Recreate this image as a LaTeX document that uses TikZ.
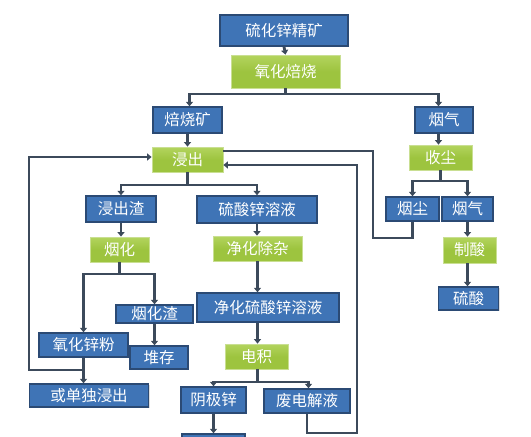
\documentclass[tikz,border=0pt]{standalone}
\usepackage{fontspec}
\setmainfont{Noto Sans CJK SC}
\usetikzlibrary{arrows.meta,shadows}
\definecolor{bfill}{HTML}{3F74B6}
\definecolor{bdraw}{HTML}{2B4A74}
\definecolor{gfill}{HTML}{9DC43F}
\definecolor{gtop}{HTML}{B3D45E}
\definecolor{gdraw}{HTML}{C9DF92}
\definecolor{lcol}{HTML}{3C4A5B}
\tikzset{
  bbox/.style={draw=bdraw, line width=1.4pt, fill=bfill, text=white, inner sep=0pt,
    font=\fontsize{15.5}{16}\selectfont, drop shadow={shadow xshift=1pt, shadow yshift=-1pt, opacity=0.25}},
  gbox/.style={draw=gdraw, line width=0.8pt, top color=gtop, bottom color=gfill, middle color=gfill, text=white, inner sep=0pt,
    font=\fontsize{15.5}{16}\selectfont, drop shadow={shadow xshift=1pt, shadow yshift=-1pt, opacity=0.2}},
  ln/.style={draw=lcol, line width=2.8pt},
  arr/.style={ln, -{Triangle[width=7pt,length=4.5pt]}},
}
\begin{document}
\begin{tikzpicture}[x=1pt,y=-1pt]
\useasboundingbox (0,0) rectangle (531,437);
\clip (0,0) rectangle (531,437);
% nodes
\node[bbox, minimum width=128pt, minimum height=31pt] (kuang) at (284,30.5) {硫化锌精矿};
\node[gbox, minimum width=109pt, minimum height=33pt] (beishao) at (285.5,71.5) {氧化焙烧};
\node[bbox, minimum width=69pt, minimum height=26pt] (bsk) at (187.5,120) {焙烧矿};
\node[bbox, minimum width=58pt, minimum height=26pt] (yq1) at (444,120) {烟气};
\node[gbox, minimum width=71pt, minimum height=25pt] (jc) at (187.5,159.5) {浸出};
\node[gbox, minimum width=63pt, minimum height=25pt] (sc) at (440.5,157.5) {收尘};
\node[bbox, minimum width=70pt, minimum height=26pt] (jcz) at (121,209) {浸出渣};
\node[bbox, minimum width=120pt, minimum height=27pt] (zn) at (257,209.5) {硫酸锌溶液};
\node[bbox, minimum width=53pt, minimum height=24pt] (yc) at (412.5,209) {烟尘};
\node[bbox, minimum width=51pt, minimum height=24pt] (yq2) at (467.5,209) {烟气};
\node[gbox, minimum width=59pt, minimum height=25pt] (yh) at (119.5,249.5) {烟化};
\node[gbox, minimum width=89pt, minimum height=25pt] (jh) at (257.5,248.5) {净化除杂};
\node[gbox, minimum width=53pt, minimum height=26pt] (zs) at (469.5,250) {制酸};
\node[bbox, minimum width=60pt, minimum height=23pt] (ls) at (468.5,298.5) {硫酸};
\node[bbox, minimum width=77pt, minimum height=18pt] (yhz) at (154.5,314) {烟化渣};
\node[bbox, minimum width=142pt, minimum height=29pt] (jhzn) at (268,307.5) {净化硫酸锌溶液};
\node[bbox, minimum width=89pt, minimum height=24pt] (yhxf) at (83.5,345) {氧化锌粉};
\node[bbox, minimum width=58pt, minimum height=23pt] (dc) at (159,357.5) {堆存};
\node[gbox, minimum width=63pt, minimum height=25pt] (dj) at (256.5,356.5) {电积};
\node[bbox, minimum width=119pt, minimum height=23pt] (hd) at (89,395.5) {或单独浸出};
\node[bbox, minimum width=65pt, minimum height=26pt] (yjx) at (213.5,400) {阴极锌};
\node[bbox, minimum width=86pt, minimum height=24pt] (fdj) at (307,401) {废电解液};
\node[bbox, minimum width=63pt, minimum height=24pt] (bot) at (213.5,446) {};
% junctions
\coordinate (b1) at (285.5,94);
\coordinate (b2) at (187.5,185);
\coordinate (b3) at (119.5,274);
\coordinate (b4) at (257.5,382);
\coordinate (b5) at (440.5,181);
\coordinate (j1) at (83.5,370);
\coordinate (lA) at (29,370);
\coordinate (cA1) at (412.5,238);
\coordinate (cA2) at (373,238);
\coordinate (cB1) at (307,433);
\coordinate (cB2) at (357,433);
% connectors
\draw[arr] (kuang.south) -- (beishao.north);
\draw[ln] (beishao.south) -- (b1);
\draw[arr] (b1) -| ([xshift=2pt]bsk.north);
\draw[arr] (b1) -| ([xshift=-5.5pt]yq1.north);
\draw[arr] (bsk.south) -- (jc.north);
\draw[arr] ([xshift=-5.5pt]yq1.south) -- ([xshift=-5.5pt]yq1.south |- sc.north);
\draw[ln] (jc.south) -- (b2);
\draw[arr] (b2) -| (jcz.north);
\draw[arr] (b2) -| (zn.north);
\draw[arr] (jcz.south) -- (jcz.south |- yh.north);
\draw[ln] (yh.south) -- (b3);
\draw[arr] (b3) -| (yhxf.north);
\draw[arr] (b3) -| (yhz.north);
\draw[arr] (yhz.south) -- (yhz.south |- dc.north);
\draw[arr] (yhxf.south) -- (yhxf.south |- hd.north);
\draw[arr] (j1) -- (lA) |- ([yshift=2.5pt]jc.west);
\draw[arr] (zn.south) -- (zn.south |- jh.north);
\draw[arr] (jh.south) -- (jh.south |- jhzn.north);
\draw[arr] (jh.south |- jhzn.south) -- (jh.south |- dj.north);
\draw[ln] (jh.south |- dj.south) -- (b4);
\draw[arr] (b4) -| (yjx.north);
\draw[arr] (b4) -| ([xshift=1.5pt]fdj.north);
\draw[arr] (yjx.south) -- (bot.north);
\draw[arr] (fdj.south) -- (cB1) -- (cB2) |- ([yshift=-5.5pt]jc.east);
\draw[ln] (yc.south) -- (cA1) -- (cA2) |- ([yshift=8.5pt]jc.east);
\draw[ln] (sc.south) -- (b5);
\draw[arr] (b5) -| (yc.north);
\draw[arr] (b5) -| (yq2.north);
\draw[arr] (yq2.south) -- (yq2.south |- zs.north);
\draw[arr] (yq2.south |- zs.south) -- (yq2.south |- ls.north);
\end{tikzpicture}
\end{document}
